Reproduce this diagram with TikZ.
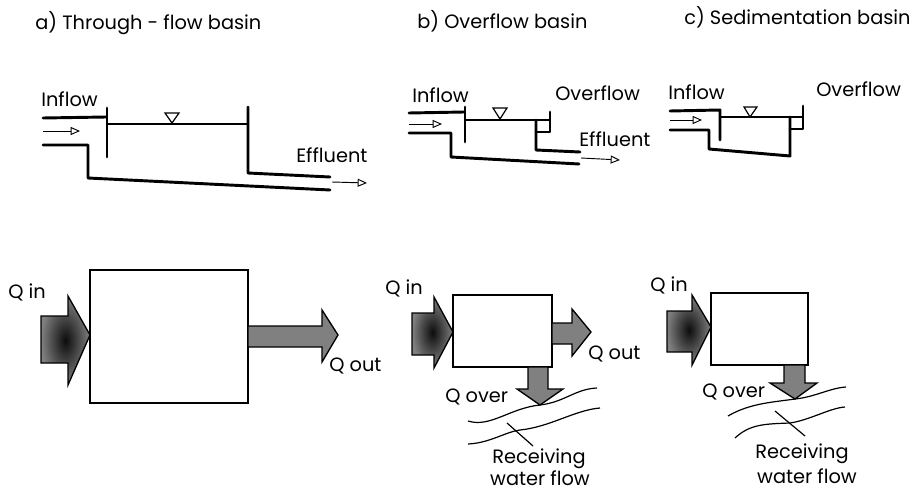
\documentclass[tikz,border=0pt]{standalone}
\usepackage{fontspec}
\setmainfont{Poppins}
\usetikzlibrary{arrows.meta}
\tikzset{
  wall/.style = {line width = 2.2pt, line join = round, line cap = round},
  water/.style = {line width = 0.8pt},
  level/.style = {line width = 0.9pt},
  flowtip/.style = {line width = 0.7pt, -{Triangle[open, length = 7pt, width = 6pt]}},
  basin/.style = {line width = 1.1pt, fill = white},
  inflowarrow/.style = {line width = 1pt, draw = black, inner color = black!95, outer color = black!50},
  outflowarrow/.style = {line width = 1pt, draw = black, fill = black!50},
  river/.style = {line width = 0.9pt},
  lbl/.style = {anchor = west, inner sep = 0pt, font = \fontsize{14.5}{16}\selectfont},
  rlbl/.style = {align = center, inner sep = 0pt, font = \fontsize{14.5}{16}\selectfont}
}
\begin{document}
\begin{tikzpicture}[x = 0.75pt, y = -0.75pt]
  \useasboundingbox (0,0) rectangle (918,492);
  % titles
  \node [lbl] (titlea) at (35,23) {a) Through - flow basin};
  \node [lbl] (titleb) at (417,21) {b) Overflow basin};
  \node [lbl] (titlec) at (684,17) {c) Sedimentation basin};

  % a) section
  \draw [wall] (43,118) -- (106,117);
  \draw [wall] (107,108) -- (107,157);
  \draw [water] (107,124) -- (248,124);
  \draw [level] (165,113) -- (179,113) -- (172,123) -- cycle;
  \draw [wall] (248,107) -- (248,173) -- (330,177);
  \draw [wall] (43,145) -- (88,145) -- (88,178) -- (330,190);
  \draw [flowtip] (43,131) -- (80,131);
  \draw [flowtip] (332,182) -- (367,183);
  \node [lbl] (inflowa) at (41,99) {Inflow};
  \node [lbl] (effluenta) at (296,155) {Effluent};

  % b) section
  \draw [wall] (409,113) -- (464,112);
  \draw [wall] (465,107) -- (465,142);
  \draw [water] (465,120) -- (550,120);
  \draw [level] (493,108) -- (507,108) -- (500,119) -- cycle;
  \draw [wall] (550,112) -- (550,132) -- (536,132);
  \draw [wall] (536,120) -- (536,150) -- (580,152);
  \draw [wall] (409,133) -- (451,133) -- (451,157) -- (579,164);
  \draw [flowtip] (409,124) -- (442,124);
  \draw [flowtip] (581,158) -- (620,160);
  \node [lbl] (inflowb) at (412,95) {Inflow};
  \node [lbl] (overflowb) at (555,93) {Overflow};
  \node [lbl] (effluentb) at (579,139) {Effluent};

  % c) section
  \draw [wall] (670,111) -- (720,110) -- (720,140);
  \draw [water] (720,117) -- (803,117);
  \draw [level] (744,107) -- (757,107) -- (750,117) -- cycle;
  \draw [wall] (803,106) -- (803,129) -- (790,129);
  \draw [wall] (670,130) -- (709,130) -- (709,149) -- (790,156) -- (790,117);
  \draw [flowtip] (670,120) -- (702,120);
  \node [lbl] (inflowc) at (668,92) {Inflow};
  \node [lbl] (overflowc) at (816,89) {Overflow};

  % a) balance
  \draw [basin] (90,270) rectangle (248,403);
  \shade [inflowarrow] (41,316) -- (68,316) -- (68,296) -- (90,335) -- (68,385) -- (68,363) -- (41,363) -- cycle;
  \draw [outflowarrow] (248,326) -- (322,326) -- (322,310) -- (338,335) -- (322,362) -- (322,347) -- (248,347) -- cycle;
  \node [lbl] (qina) at (8,292) {Q in};
  \node [lbl] (qouta) at (329,366) {Q out};

  % b) balance
  \draw [basin] (453,295) rectangle (552,367);
  \shade [inflowarrow] (412,313) -- (434,313) -- (434,297) -- (453,332) -- (434,368) -- (434,355) -- (412,355) -- cycle;
  \draw [outflowarrow] (552,323) -- (572,323) -- (572,309) -- (591,332) -- (572,356) -- (572,344) -- (552,344) -- cycle;
  \draw [outflowarrow] (528,367) -- (548,367) -- (548,389) -- (563,389) -- (540,405) -- (517,389) -- (528,389) -- cycle;
  \draw [river] (468,421) .. controls (490,428) and (510,408) .. (540,405) .. controls (565,402) and (575,389) .. (597,388);
  \draw [river] (468,444) .. controls (490,443) and (505,432) .. (520,430) .. controls (550,427) and (575,410) .. (600,408);
  \draw [river] (507,423) -- (533,446);
  \node [lbl] (qinb) at (385,288) {Q in};
  \node [lbl] (qoutb) at (588,354) {Q out};
  \node [lbl] (qoverb) at (445,397) {Q over};
  \node [rlbl] (receivingb) at (539,459) {Receiving};
  \node [rlbl] (waterb) at (540,478) {water flow};

  % c) balance
  \draw [basin] (711,293) rectangle (808,365);
  \shade [inflowarrow] (667,311) -- (692,311) -- (692,295) -- (711,327) -- (692,365) -- (692,352) -- (667,352) -- cycle;
  \draw [outflowarrow] (784,365) -- (805,365) -- (805,383) -- (817,383) -- (795,399) -- (770,383) -- (784,383) -- cycle;
  \draw [river] (728,416) .. controls (750,403) and (775,402) .. (795,399) .. controls (815,397) and (830,388) .. (846,387);
  \draw [river] (735,438) .. controls (750,424) and (765,424) .. (790,423) .. controls (810,420) and (830,408) .. (845,407);
  \draw [river] (775,411) -- (805,436);
  \node [lbl] (qinc) at (650,285) {Q in};
  \node [lbl] (qoverc) at (702,392) {Q over};
  \node [rlbl] (receivingc) at (802,454) {Receiving};
  \node [rlbl] (waterc) at (807,476) {water flow};
\end{tikzpicture}
\end{document}
